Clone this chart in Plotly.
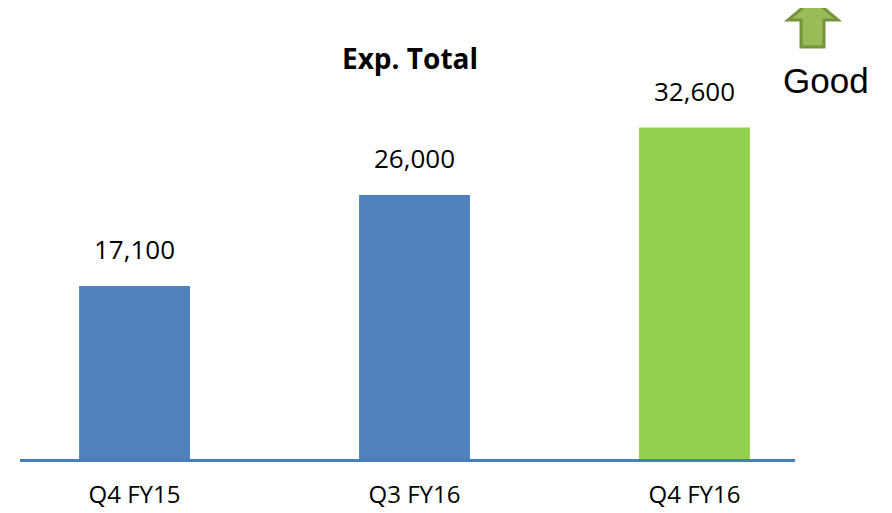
import plotly.graph_objects as go

categories = ["Q4 FY15", "Q3 FY16", "Q4 FY16"]
values = [17100, 26000, 32600]
labels = ["17,100", "26,000", "32,600"]
colors = ["#4F81BD", "#4F81BD", "#92D050"]

OFF = 8  # page body margin
W, H = 892 - OFF, 513 - OFF
L, T = 20 - OFF, 40 - OFF
pw, ph = 775, 421
R = W - L - pw
B = H - T - ph

def px(x):
    return (x - OFF - L) / pw

def py(y):
    return (T + ph - (y - OFF)) / ph

fig = go.Figure()
fig.add_trace(go.Bar(
    x=categories, y=values, marker=dict(color=colors, line=dict(width=0)),
    width=0.396, hoverinfo="skip"
))

for c, v, t in zip(categories, values, labels):
    fig.add_annotation(x=c, y=v, text=t, showarrow=False, yanchor="bottom",
                       yshift=17, font=dict(family="Open Sans", size=26, color="#000"))

fig.add_annotation(xref="paper", yref="paper", x=px(410), y=py(58), text="<b>Exp. Total</b>",
                   showarrow=False, xanchor="center", yanchor="middle",
                   font=dict(family="Open Sans", size=28, color="#000"))
fig.add_annotation(xref="paper", yref="paper", x=px(826), y=py(80), text="Good",
                   showarrow=False, xanchor="center", yanchor="middle",
                   font=dict(family="Liberation Sans", size=35, color="#000"))

# up arrow
pts = [(813, -1), (838, 20), (824, 20), (824, 47), (801, 47), (801, 20), (788, 20)]
path = "M " + " L ".join(f"{px(a):.5f},{py(b):.5f}" for a, b in pts) + " Z"
fig.add_shape(type="path", xref="paper", yref="paper", path=path,
              fillcolor="#9BBB59", line=dict(color="#77933C", width=3), layer="above")

# baseline
fig.add_shape(type="line", xref="paper", yref="paper", x0=0, x1=1, y0=py(460.5), y1=py(460.5),
              line=dict(color="#4A7EBB", width=3))

fig.update_layout(
    width=W, height=H, margin=dict(l=L, r=R, t=T, b=B, autoexpand=False),
    paper_bgcolor="white", plot_bgcolor="white", showlegend=False,
    xaxis=dict(type="category", range=[-0.409, 2.359], showline=False, showgrid=False,
               automargin=False,
               ticks="outside", ticklen=12, tickcolor="rgba(0,0,0,0)",
               tickfont=dict(family="Open Sans", size=24, color="#000"), fixedrange=True),
    yaxis=dict(range=[0, ph / 0.01023], visible=False, showgrid=False, fixedrange=True,
               automargin=False),
)

fig.write_html("out.html", config={"displayModeBar": False})
